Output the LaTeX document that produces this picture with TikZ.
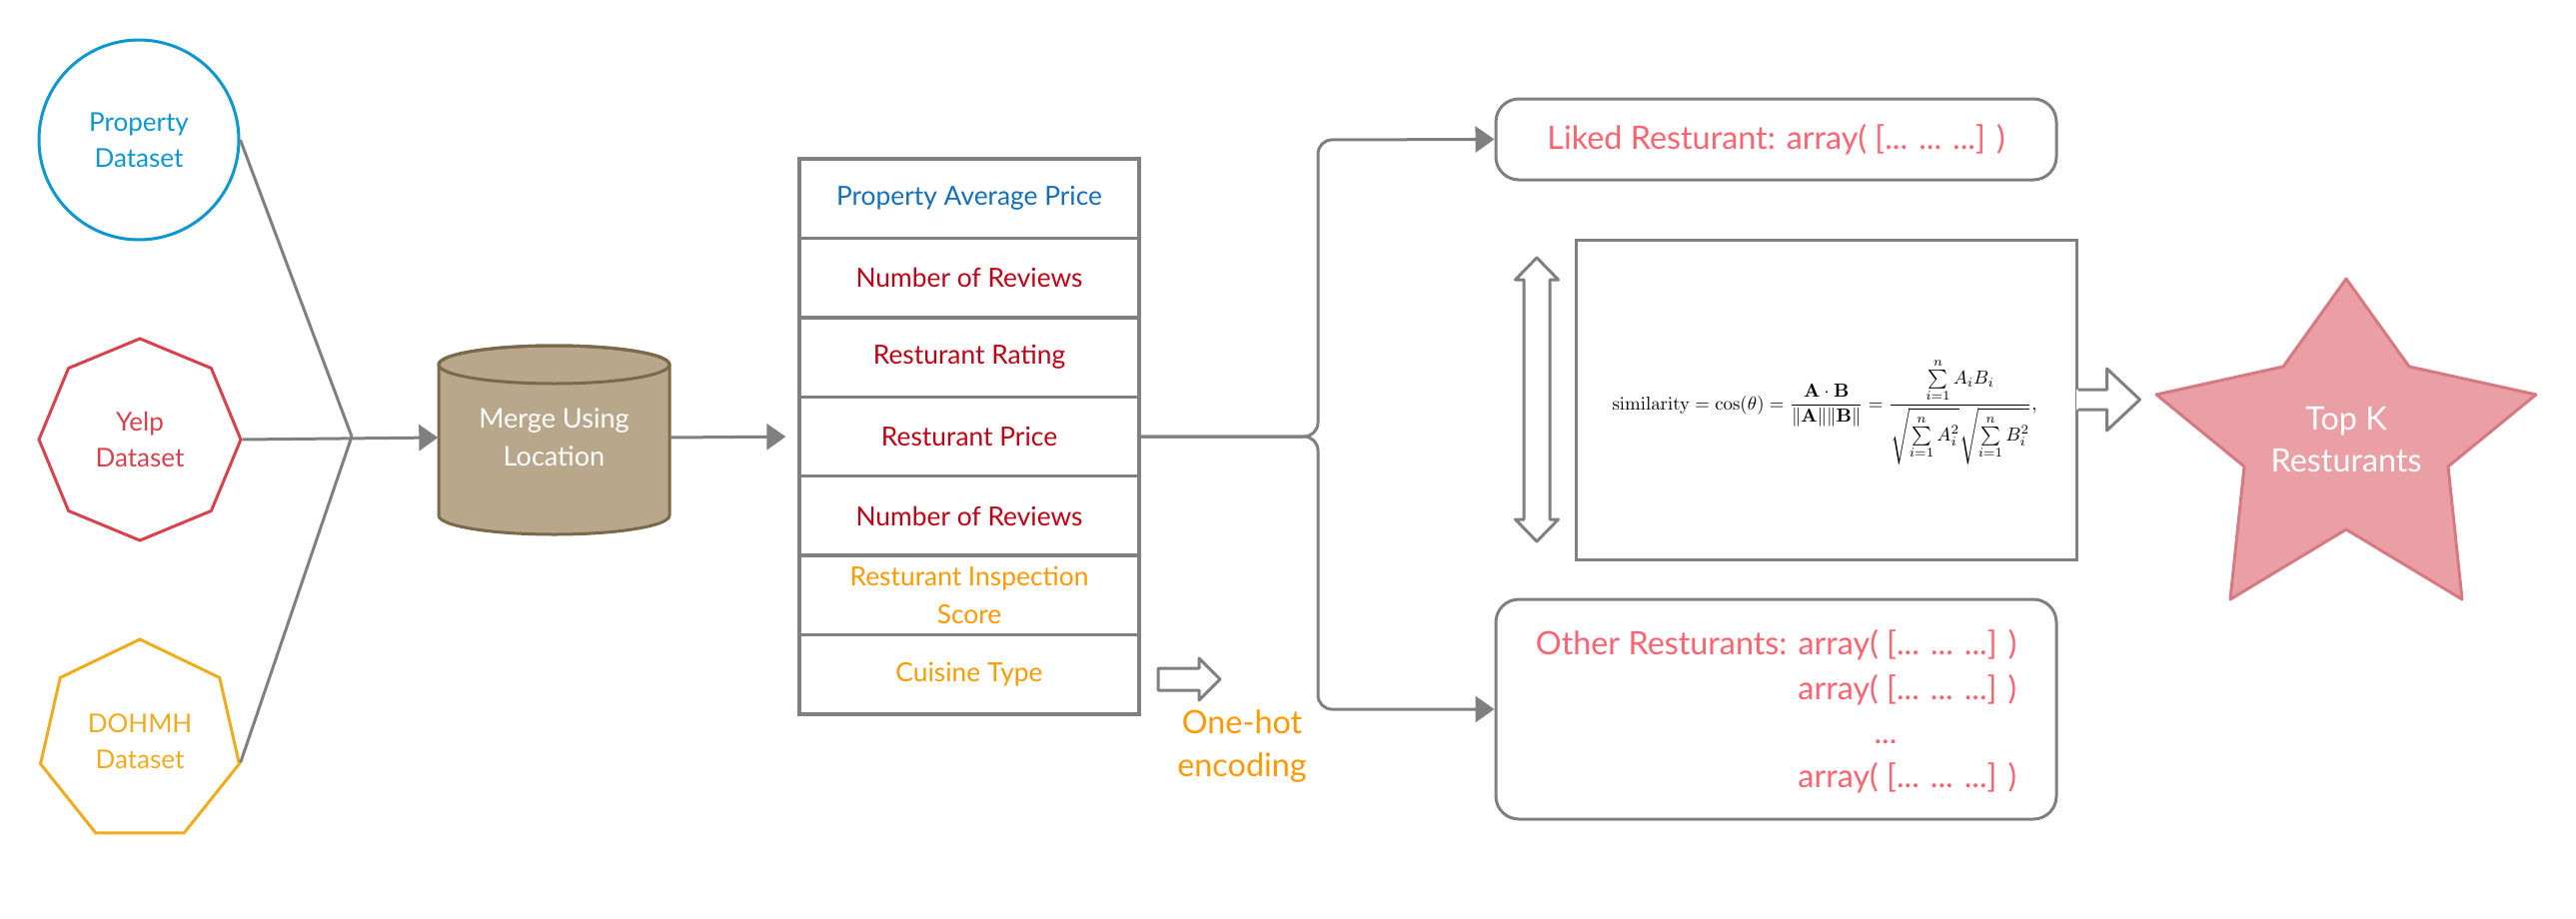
\documentclass[tikz,border=0pt]{standalone}
\usepackage{graphicx}
\usepackage{amsmath}
\usepackage[no-math]{fontspec}
\setmainfont{Lato}
\usetikzlibrary{shapes.geometric,arrows.meta,calc}
\definecolor{lgray}{RGB}{128,128,128}
\definecolor{dblue}{RGB}{11,151,209}
\definecolor{yred}{RGB}{216,65,78}
\definecolor{dorange}{RGB}{241,171,31}
\definecolor{tblue}{RGB}{20,110,185}
\definecolor{tred}{RGB}{192,0,20}
\definecolor{torange}{RGB}{255,153,0}
\definecolor{pinkc}{RGB}{255,99,112}
\definecolor{ctan}{RGB}{184,167,138}
\definecolor{cbrown}{RGB}{122,105,75}
\definecolor{starfill}{RGB}{234,159,165}
\definecolor{stardraw}{RGB}{214,122,130}
\begin{document}
\begin{tikzpicture}[x=0.1mm,y=-0.1mm,
  gline/.style={draw=lgray, line width=0.3mm},
  arr/.style={gline, -{Triangle[length=1.9mm,width=2.6mm]}},
  rowbox/.style={draw=lgray, line width=0.33mm, minimum width=34mm, minimum height=7.943mm, inner sep=0, align=center, font=\fontsize{7.5}{10.8}\selectfont},
  ds/.style={line width=0.3mm, inner sep=0, align=center, font=\fontsize{7.4}{10.3}\selectfont},
  rbox/.style={draw=lgray, line width=0.3mm, rounded corners=2.3mm, inner sep=0},
  pinktxt/.style={text=pinkc, font=\fontsize{9.2}{14}\selectfont, inner sep=0},
  blockarrow/.style={fill=white, draw=lgray, line width=0.3mm, line join=round}
]
\useasboundingbox (0,0) rectangle (2578,920);
\fill[white] (0,0) rectangle (2578,920);

% data sources
\node[ds, circle, draw=dblue, text=dblue, minimum size=20mm] (prop) at (139,140) {Property\\Dataset};
\node[ds, regular polygon, regular polygon sides=8, shape border rotate=22.5, draw=yred, text=yred, minimum size=20.2mm] (yelp) at (140,440) {Yelp\\Dataset};
\node[ds, regular polygon, regular polygon sides=7, draw=dorange, text=dorange, minimum size=20.4mm] (dohmh) at (140,742) {DOHMH\\Dataset};

% cylinder
\filldraw[fill=ctan, draw=cbrown, line width=0.3mm] (439,365) -- (439,516) arc[start angle=180, end angle=360, x radius=11.55mm, y radius=1.9mm] -- (670,365) arc[start angle=0, end angle=180, x radius=11.55mm, y radius=1.9mm] -- cycle;
\draw[cbrown, line width=0.3mm] (554.5,365) ellipse [x radius=11.55mm, y radius=1.9mm];
\node[inner sep=0, minimum width=23.1mm, minimum height=18.9mm, align=center, text=white, font=\fontsize{7.7}{10.8}\selectfont] (cyl) at (554.5,438) {Merge Using\\Location};

\coordinate (jn) at (352,437);
\draw[gline] (prop.east) -- (jn);
\draw[gline] (dohmh.-12.86) -- (jn);
\draw[arr] (yelp.east) -- (cyl.west);

% table
\node[rowbox, text=tblue] (r1) at (970,198.7) {Property Average Price};
\node[rowbox, text=tred] (r2) at (970,278.1) {Number of Reviews};
\node[rowbox, text=tred] (r3) at (970,357.6) {Resturant Rating};
\node[rowbox, text=tred] (r4) at (970,437.0) {Resturant Price};
\node[rowbox, text=tred] (r5) at (970,516.4) {Number of Reviews};
\node[rowbox, text=torange] (r6) at (970,595.9) {Resturant Inspection\\Score};
\node[rowbox, text=torange] (r7) at (970,675.3) {Cuisine Type};

\draw[arr, shorten >=1.2mm] (cyl.east) -- (r4.west);

% right boxes
\node[rbox, minimum width=56.1mm, minimum height=8.1mm, pinktxt] (liked) at (1777.5,139.5) {Liked Resturant: array( [... ... ...] )};
\node[rbox, minimum width=56.1mm, minimum height=22mm] (other) at (1777.5,710) {};
\node[pinktxt, anchor=base east] (ot1) at (2019,655) {Other Resturants: array( [... ... ...] )};
\node[pinktxt, anchor=base east] (ot2) at (2019,700) {array( [... ... ...] )};
\node[pinktxt, anchor=base] (ot3) at (1887,744) {...};
\node[pinktxt, anchor=base east] (ot4) at (2019,788) {array( [... ... ...] )};

\draw[arr, rounded corners=1.4mm] (r4.east) -- (1319,437) -- (1319,140) -- (liked.west);
\draw[arr, rounded corners=1.4mm] (r4.east) -- (1319,437) -- (1319,710) -- (other.west);

% formula
\node[draw=lgray, line width=0.3mm, minimum width=50.1mm, minimum height=32mm, inner sep=0] (formula) at (1827.5,400) {};
\node[inner sep=0] (ftext) at (1826,412) {\resizebox{42.5mm}{!}{$\displaystyle \mathrm{similarity} = \cos(\theta) = \frac{\mathbf{A}\cdot\mathbf{B}}{\|\mathbf{A}\|\|\mathbf{B}\|} = \frac{\sum\limits_{i=1}^{n} A_iB_i}{\sqrt{\sum\limits_{i=1}^{n} A_i^2}\sqrt{\sum\limits_{i=1}^{n} B_i^2}},$}};

% double arrow
\draw[blockarrow] (1538,258) -- (1559.5,280) -- (1551,280) -- (1551,520) -- (1559.5,520) -- (1538,542) -- (1516.5,520) -- (1525,520) -- (1525,280) -- (1516.5,280) -- cycle;

% arrow out of formula box
\begin{scope}[shift={(formula.east)}]
\fill[white] (-2,-10) rectangle (30,10);
\fill[white] (29,-31) -- (62,0) -- (29,31) -- cycle;
\draw[gline, line join=round] (0,-10) -- (29,-10) -- (29,-31) -- (62,0) -- (29,31) -- (29,10) -- (0,10);
\end{scope}

% star
\filldraw[fill=starfill, draw=stardraw, line width=0.3mm, line join=round] (2348,279) -- (2411,367) -- (2538,395) -- (2450,467) -- (2464,600) -- (2348,530) -- (2232,600) -- (2246,467) -- (2158,395) -- (2285,367) -- cycle;
\node[inner sep=0, align=center, text=white, font=\fontsize{9.2}{12.2}\selectfont] (topk) at (2348,440) {Top K\\Resturants};

% one-hot
\draw[blockarrow] (1159,669) -- (1200,669) -- (1200,659) -- (1221,680) -- (1200,701) -- (1200,691) -- (1159,691) -- cycle;
\node[inner sep=0, align=center, text=torange, font=\fontsize{9.2}{12.5}\selectfont] (onehot) at (1243,747) {One-hot\\encoding};
\end{tikzpicture}
\end{document}
